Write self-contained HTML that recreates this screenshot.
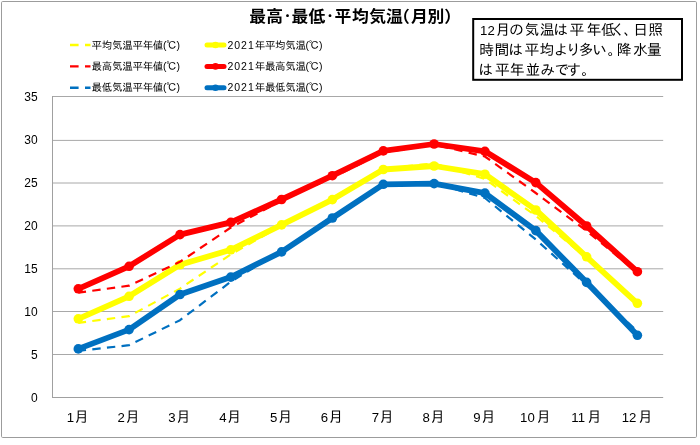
<!DOCTYPE html>
<html lang="ja"><head><meta charset="utf-8"><title>最高・最低・平均気温（月別）</title>
<style>html,body{margin:0;padding:0;background:#fff;}body{width:700px;height:445px;overflow:hidden;}svg{display:block;}</style>
</head><body>
<svg width="700" height="445" viewBox="0 0 700 445">
<rect x="0" y="0" width="700" height="445" fill="#ffffff"/>
<rect x="1.5" y="1.5" width="695" height="436" rx="1.2" ry="1.2" fill="#ffffff" stroke="#9c9c9c" stroke-width="1"/>
<line x1="52" y1="96.5" x2="663.2" y2="96.5" stroke="#a8a8a8" stroke-width="1"/>
<line x1="52" y1="140.4" x2="663.2" y2="140.4" stroke="#a8a8a8" stroke-width="1"/>
<line x1="52" y1="183.0" x2="663.2" y2="183.0" stroke="#a8a8a8" stroke-width="1"/>
<line x1="52" y1="225.9" x2="663.2" y2="225.9" stroke="#a8a8a8" stroke-width="1"/>
<line x1="52" y1="268.8" x2="663.2" y2="268.8" stroke="#a8a8a8" stroke-width="1"/>
<line x1="52" y1="311.5" x2="663.2" y2="311.5" stroke="#a8a8a8" stroke-width="1"/>
<line x1="52" y1="354.5" x2="663.2" y2="354.5" stroke="#a8a8a8" stroke-width="1"/>
<line x1="52" y1="397.5" x2="663.2" y2="397.5" stroke="#a0a0a0" stroke-width="1"/>
<line x1="52.5" y1="96" x2="52.5" y2="398" stroke="#a0a0a0" stroke-width="1"/>
<polyline points="78.3,322.8 129.1,316.2 180.0,288.6 230.8,254.4 281.6,225.5 332.4,199.5 383.3,168.5 434.1,163.5 484.9,179.0 535.8,215.8 586.6,258.0 637.4,303.0" fill="none" stroke="#ffff00" stroke-width="2.2" stroke-dasharray="8.4 6.3" stroke-dashoffset="0.6" stroke-linejoin="round"/>
<polyline points="78.3,318.8 129.1,296.3 180.0,264.8 230.8,249.8 281.6,224.9 332.4,199.6 383.3,169.5 434.1,166.0 484.9,174.2 535.8,210.0 586.6,256.8 637.4,303.3" fill="none" stroke="#ffff00" stroke-width="5.8" stroke-linejoin="round" stroke-linecap="round"/><circle cx="78.3" cy="318.8" r="4.8" fill="#ffff00"/><circle cx="129.1" cy="296.3" r="4.8" fill="#ffff00"/><circle cx="180.0" cy="264.8" r="4.8" fill="#ffff00"/><circle cx="230.8" cy="249.8" r="4.8" fill="#ffff00"/><circle cx="281.6" cy="224.9" r="4.8" fill="#ffff00"/><circle cx="332.4" cy="199.6" r="4.8" fill="#ffff00"/><circle cx="383.3" cy="169.5" r="4.8" fill="#ffff00"/><circle cx="434.1" cy="166.0" r="4.8" fill="#ffff00"/><circle cx="484.9" cy="174.2" r="4.8" fill="#ffff00"/><circle cx="535.8" cy="210.0" r="4.8" fill="#ffff00"/><circle cx="586.6" cy="256.8" r="4.8" fill="#ffff00"/><circle cx="637.4" cy="303.3" r="4.8" fill="#ffff00"/>
<polyline points="78.3,292.7 129.1,285.7 180.0,261.8 230.8,227.5 281.6,200.6 332.4,177.5 383.3,152.5 434.1,144.5 484.9,156.5 535.8,193.0 586.6,231.0 637.4,272.5" fill="none" stroke="#ff0000" stroke-width="2.2" stroke-dasharray="8.4 6.3" stroke-dashoffset="0.6" stroke-linejoin="round"/>
<polyline points="78.3,288.8 129.1,266.3 180.0,234.6 230.8,222.4 281.6,199.5 332.4,175.7 383.3,150.9 434.1,144.0 484.9,151.3 535.8,182.6 586.6,226.0 637.4,271.7" fill="none" stroke="#ff0000" stroke-width="5.8" stroke-linejoin="round" stroke-linecap="round"/><circle cx="78.3" cy="288.8" r="4.8" fill="#ff0000"/><circle cx="129.1" cy="266.3" r="4.8" fill="#ff0000"/><circle cx="180.0" cy="234.6" r="4.8" fill="#ff0000"/><circle cx="230.8" cy="222.4" r="4.8" fill="#ff0000"/><circle cx="281.6" cy="199.5" r="4.8" fill="#ff0000"/><circle cx="332.4" cy="175.7" r="4.8" fill="#ff0000"/><circle cx="383.3" cy="150.9" r="4.8" fill="#ff0000"/><circle cx="434.1" cy="144.0" r="4.8" fill="#ff0000"/><circle cx="484.9" cy="151.3" r="4.8" fill="#ff0000"/><circle cx="535.8" cy="182.6" r="4.8" fill="#ff0000"/><circle cx="586.6" cy="226.0" r="4.8" fill="#ff0000"/><circle cx="637.4" cy="271.7" r="4.8" fill="#ff0000"/>
<polyline points="78.3,350.9 129.1,345.2 180.0,320.2 230.8,281.7 281.6,251.0 332.4,216.5 383.3,183.5 434.1,183.0 484.9,198.0 535.8,239.5 586.6,285.0 637.4,331.3" fill="none" stroke="#0070c0" stroke-width="2.2" stroke-dasharray="8.4 6.3" stroke-dashoffset="0.6" stroke-linejoin="round"/>
<polyline points="78.3,348.9 129.1,329.6 180.0,294.5 230.8,277.1 281.6,251.9 332.4,218.0 383.3,184.3 434.1,183.6 484.9,193.1 535.8,230.6 586.6,282.4 637.4,335.3" fill="none" stroke="#0070c0" stroke-width="5.8" stroke-linejoin="round" stroke-linecap="round"/><circle cx="78.3" cy="348.9" r="4.8" fill="#0070c0"/><circle cx="129.1" cy="329.6" r="4.8" fill="#0070c0"/><circle cx="180.0" cy="294.5" r="4.8" fill="#0070c0"/><circle cx="230.8" cy="277.1" r="4.8" fill="#0070c0"/><circle cx="281.6" cy="251.9" r="4.8" fill="#0070c0"/><circle cx="332.4" cy="218.0" r="4.8" fill="#0070c0"/><circle cx="383.3" cy="184.3" r="4.8" fill="#0070c0"/><circle cx="434.1" cy="183.6" r="4.8" fill="#0070c0"/><circle cx="484.9" cy="193.1" r="4.8" fill="#0070c0"/><circle cx="535.8" cy="230.6" r="4.8" fill="#0070c0"/><circle cx="586.6" cy="282.4" r="4.8" fill="#0070c0"/><circle cx="637.4" cy="335.3" r="4.8" fill="#0070c0"/>
<g font-family="'Liberation Sans', sans-serif" font-size="12" fill="#000" text-anchor="end">
<text x="37.6" y="100.8">35</text>
<text x="37.6" y="143.8">30</text>
<text x="37.6" y="186.8">25</text>
<text x="37.6" y="229.8">20</text>
<text x="37.6" y="272.8">15</text>
<text x="37.6" y="315.8">10</text>
<text x="37.6" y="358.8">5</text>
<text x="37.6" y="401.8">0</text>
</g>
<text x="70.3" y="421.8" text-anchor="middle" font-family="'Liberation Sans', sans-serif" font-size="13.2" fill="#000">1</text>
<text x="74.35" y="421.8" font-family="'Liberation Sans', 'IPAGothic', 'Noto Sans CJK JP', sans-serif" font-size="14.67" font-weight="normal" fill="#000">月</text>
<text x="121.1" y="421.8" text-anchor="middle" font-family="'Liberation Sans', sans-serif" font-size="13.2" fill="#000">2</text>
<text x="125.18" y="421.8" font-family="'Liberation Sans', 'IPAGothic', 'Noto Sans CJK JP', sans-serif" font-size="14.67" font-weight="normal" fill="#000">月</text>
<text x="172.0" y="421.8" text-anchor="middle" font-family="'Liberation Sans', sans-serif" font-size="13.2" fill="#000">3</text>
<text x="176.01" y="421.8" font-family="'Liberation Sans', 'IPAGothic', 'Noto Sans CJK JP', sans-serif" font-size="14.67" font-weight="normal" fill="#000">月</text>
<text x="222.8" y="421.8" text-anchor="middle" font-family="'Liberation Sans', sans-serif" font-size="13.2" fill="#000">4</text>
<text x="226.84" y="421.8" font-family="'Liberation Sans', 'IPAGothic', 'Noto Sans CJK JP', sans-serif" font-size="14.67" font-weight="normal" fill="#000">月</text>
<text x="273.6" y="421.8" text-anchor="middle" font-family="'Liberation Sans', sans-serif" font-size="13.2" fill="#000">5</text>
<text x="277.67" y="421.8" font-family="'Liberation Sans', 'IPAGothic', 'Noto Sans CJK JP', sans-serif" font-size="14.67" font-weight="normal" fill="#000">月</text>
<text x="324.4" y="421.8" text-anchor="middle" font-family="'Liberation Sans', sans-serif" font-size="13.2" fill="#000">6</text>
<text x="328.50" y="421.8" font-family="'Liberation Sans', 'IPAGothic', 'Noto Sans CJK JP', sans-serif" font-size="14.67" font-weight="normal" fill="#000">月</text>
<text x="375.3" y="421.8" text-anchor="middle" font-family="'Liberation Sans', sans-serif" font-size="13.2" fill="#000">7</text>
<text x="379.33" y="421.8" font-family="'Liberation Sans', 'IPAGothic', 'Noto Sans CJK JP', sans-serif" font-size="14.67" font-weight="normal" fill="#000">月</text>
<text x="426.1" y="421.8" text-anchor="middle" font-family="'Liberation Sans', sans-serif" font-size="13.2" fill="#000">8</text>
<text x="430.16" y="421.8" font-family="'Liberation Sans', 'IPAGothic', 'Noto Sans CJK JP', sans-serif" font-size="14.67" font-weight="normal" fill="#000">月</text>
<text x="476.9" y="421.8" text-anchor="middle" font-family="'Liberation Sans', sans-serif" font-size="13.2" fill="#000">9</text>
<text x="480.99" y="421.8" font-family="'Liberation Sans', 'IPAGothic', 'Noto Sans CJK JP', sans-serif" font-size="14.67" font-weight="normal" fill="#000">月</text>
<text x="527.4" y="421.8" text-anchor="middle" font-family="'Liberation Sans', sans-serif" font-size="13.2" fill="#000">10</text>
<text x="536.22" y="421.8" font-family="'Liberation Sans', 'IPAGothic', 'Noto Sans CJK JP', sans-serif" font-size="14.67" font-weight="normal" fill="#000">月</text>
<text x="578.2" y="421.8" text-anchor="middle" font-family="'Liberation Sans', sans-serif" font-size="13.2" fill="#000">11</text>
<text x="587.05" y="421.8" font-family="'Liberation Sans', 'IPAGothic', 'Noto Sans CJK JP', sans-serif" font-size="14.67" font-weight="normal" fill="#000">月</text>
<text x="629.0" y="421.8" text-anchor="middle" font-family="'Liberation Sans', sans-serif" font-size="13.2" fill="#000">12</text>
<text x="637.88" y="421.8" font-family="'Liberation Sans', 'IPAGothic', 'Noto Sans CJK JP', sans-serif" font-size="14.67" font-weight="normal" fill="#000">月</text>
<text transform="scale(1.05,1)" x="237.33 253.62 268.65 277.62 293.90 308.94 318.67 335.20 351.62 367.71 374.24 391.41 407.14 423.10" y="22.40 22.40 20.50 22.40 22.40 20.50 22.40 22.40 22.40 22.40 22.40 22.40 22.40 22.40" font-family="'Liberation Sans', 'Noto Sans CJK JP', sans-serif" font-size="16" font-weight="bold" fill="#000">最高<tspan font-size="10.5">・</tspan>最低<tspan font-size="10.5">・</tspan>平均気温（月別）</text>
<line x1="70" y1="45.0" x2="90.5" y2="45.0" stroke="#ffff00" stroke-width="2.4" stroke-dasharray="8.6 6.4"/>
<text x="91.6" y="48.7" font-family="'Liberation Sans', 'IPAGothic', 'Noto Sans CJK JP', sans-serif" font-size="10.5" fill="#000" textLength="88.4" lengthAdjust="spacing">平均気温平年値(℃)</text>
<line x1="207" y1="45.0" x2="224" y2="45.0" stroke="#ffff00" stroke-width="5" stroke-linecap="round"/>
<circle cx="215.5" cy="45.0" r="3.3" fill="#ffff00"/>
<text x="227.4" y="48.7" font-family="'Liberation Sans', 'IPAGothic', 'Noto Sans CJK JP', sans-serif" font-size="10.5" fill="#000" textLength="26.4" lengthAdjust="spacing">2021</text>
<text x="254.8" y="48.7" font-family="'Liberation Sans', 'IPAGothic', 'Noto Sans CJK JP', sans-serif" font-size="10.5" fill="#000" textLength="67.6" lengthAdjust="spacing">年平均気温(℃)</text>
<line x1="70" y1="66.4" x2="90.5" y2="66.4" stroke="#ff0000" stroke-width="2.4" stroke-dasharray="8.6 6.4"/>
<text x="91.6" y="70.1" font-family="'Liberation Sans', 'IPAGothic', 'Noto Sans CJK JP', sans-serif" font-size="10.5" fill="#000" textLength="88.4" lengthAdjust="spacing">最高気温平年値(℃)</text>
<line x1="207" y1="66.4" x2="224" y2="66.4" stroke="#ff0000" stroke-width="5" stroke-linecap="round"/>
<circle cx="215.5" cy="66.4" r="3.3" fill="#ff0000"/>
<text x="227.4" y="70.1" font-family="'Liberation Sans', 'IPAGothic', 'Noto Sans CJK JP', sans-serif" font-size="10.5" fill="#000" textLength="26.4" lengthAdjust="spacing">2021</text>
<text x="254.8" y="70.1" font-family="'Liberation Sans', 'IPAGothic', 'Noto Sans CJK JP', sans-serif" font-size="10.5" fill="#000" textLength="67.6" lengthAdjust="spacing">年最高気温(℃)</text>
<line x1="70" y1="87.7" x2="90.5" y2="87.7" stroke="#0070c0" stroke-width="2.4" stroke-dasharray="8.6 6.4"/>
<text x="91.6" y="91.4" font-family="'Liberation Sans', 'IPAGothic', 'Noto Sans CJK JP', sans-serif" font-size="10.5" fill="#000" textLength="88.4" lengthAdjust="spacing">最低気温平年値(℃)</text>
<line x1="207" y1="87.7" x2="224" y2="87.7" stroke="#0070c0" stroke-width="5" stroke-linecap="round"/>
<circle cx="215.5" cy="87.7" r="3.3" fill="#0070c0"/>
<text x="227.4" y="91.4" font-family="'Liberation Sans', 'IPAGothic', 'Noto Sans CJK JP', sans-serif" font-size="10.5" fill="#000" textLength="26.4" lengthAdjust="spacing">2021</text>
<text x="254.8" y="91.4" font-family="'Liberation Sans', 'IPAGothic', 'Noto Sans CJK JP', sans-serif" font-size="10.5" fill="#000" textLength="67.6" lengthAdjust="spacing">年最低気温(℃)</text>
<rect x="473.2" y="19" width="208.8" height="60.8" fill="#ffffff" stroke="#000" stroke-width="2"/>
<text x="487.4" y="35.2" text-anchor="middle" font-family="'Liberation Sans', sans-serif" font-size="13.2" fill="#000">12</text>
<text x="495.59 508.88 524.57 539.70 553.15 569.40 586.38 601.02 610.56 623.49 633.30 648.20" y="35.2" font-family="'Liberation Sans', 'IPAGothic', 'Noto Sans CJK JP', sans-serif" font-size="14.8" font-weight="normal" fill="#000">月の気温は平年低く、日照</text>
<text x="479.27 494.50 508.25 524.40 539.53 553.85 566.03 578.72 592.28 607.62 616.85 632.90 647.10" y="54.8" font-family="'Liberation Sans', 'IPAGothic', 'Noto Sans CJK JP', sans-serif" font-size="14.8" font-weight="normal" fill="#000">時間は平均より多い。降水量</text>
<text x="478.35 494.90 509.68 525.60 540.27 554.60 566.60 581.23" y="74.9" font-family="'Liberation Sans', 'IPAGothic', 'Noto Sans CJK JP', sans-serif" font-size="14.8" font-weight="normal" fill="#000">は平年並みです。</text>
</svg>
</body></html>
